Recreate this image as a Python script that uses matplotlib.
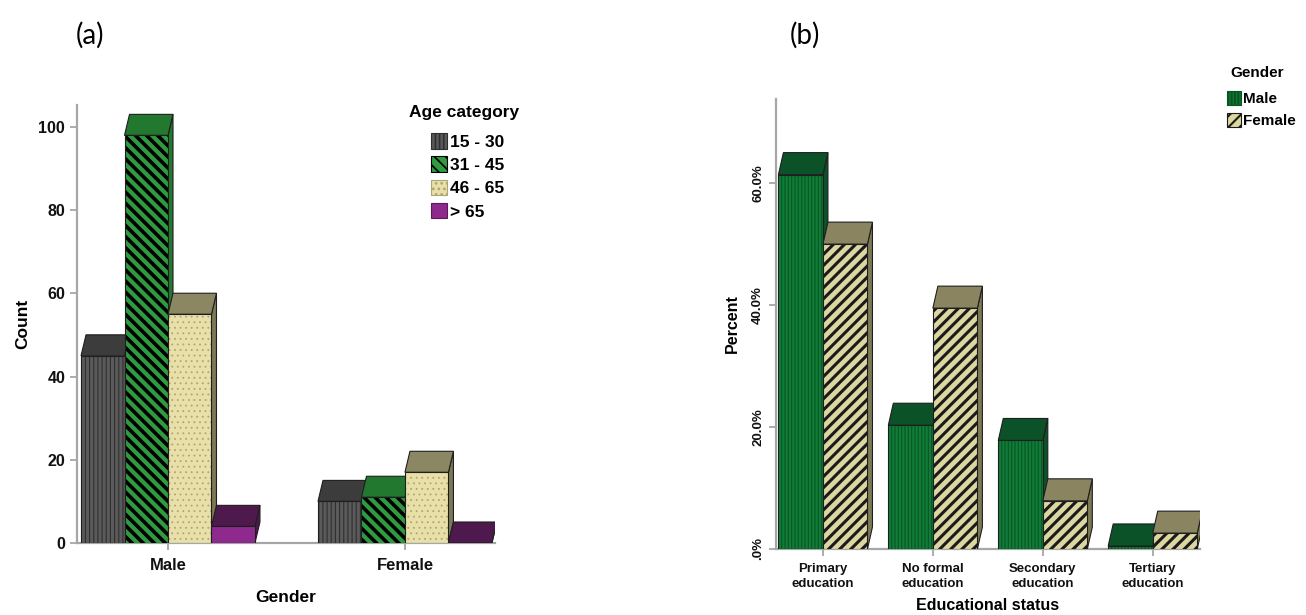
import matplotlib
matplotlib.use("Agg")
import matplotlib.pyplot as plt
from matplotlib.patches import Polygon, Patch
import numpy as np

# ---------------- data ----------------
genders = ["Male", "Female"]
age_categories = ["15 - 30", "31 - 45", "46 - 65", "> 65"]
age_counts = {
    "15 - 30": [45, 10],
    "31 - 45": [98, 11],
    "46 - 65": [55, 17],
    "> 65": [4, 0],
}
count_ticks = [0, 20, 40, 60, 80, 100]

edu_categories = ["Primary\neducation", "No formal\neducation", "Secondary\neducation", "Tertiary\neducation"]
edu_male = [61.4, 20.3, 17.8, 0.5]
edu_female = [50.0, 39.5, 7.9, 2.6]
pct_ticks = [0, 20, 40, 60]
pct_labels = [".0%", "20.0%", "40.0%", "60.0%"]

# ---------------- styles ----------------
W, H = 1306, 615
plt.rcParams['font.family'] = ['Liberation Sans', 'DejaVu Sans']
plt.rcParams['font.weight'] = 'bold'

age_style = {
    "15 - 30": dict(face='#5a5a5a', hcol='#2f2f2f', hatch='||||', top='#3c3c3c', side='#3c3c3c', hlw=0.8),
    "31 - 45": dict(face='#2f9a40', hcol='#000000', hatch='\\\\\\', top='#22782f', side='#22782f', hlw=2.6),
    "46 - 65": dict(face='#e8e0a8', hcol='#aea676', hatch='...', top='#8b8763', side='#7d7955', hlw=0.6),
    "> 65": dict(face='#8e2a8e', hcol='#8e2a8e', hatch=None, top='#4e1a4e', side='#4e1a4e', hlw=1.0),
}
sex_style = {
    "Male": dict(face='#0f7d38', hcol='#0a5424', hatch='|||||', top='#0b5229', side='#0b5229', hlw=0.8),
    "Female": dict(face='#dcd6a0', hcol='#1a1a1a', hatch='///', top='#8a8560', side='#7d7955', hlw=2.2),
}
axis_col = '#a6a6a6'
outline = '#1e1e1e'

fig = plt.figure(figsize=(W / 100, H / 100), dpi=100)


def set_hlw(artists, lw):
    for a in artists:
        if hasattr(a, 'set_hatch_linewidth'):
            a.set_hatch_linewidth(lw)


def bar3d(ax, xs, hs, w, st, zbase, dxp, dyp, axw_px, axh_px):
    x0, x1 = ax.get_xlim()
    y0, y1 = ax.get_ylim()
    dx = dxp * (x1 - x0) / axw_px
    dy = dyp * (y1 - y0) / axh_px
    for i, (x, h) in enumerate(zip(xs, hs)):
        z = zbase
        l, r = x - w / 2, x + w / 2
        side = Polygon([(r, 0), (r + dx, dy), (r + dx, h + dy), (r, h)], closed=True,
                       facecolor=st['side'], edgecolor=outline, lw=0.8, zorder=z)
        top = Polygon([(l, h), (r, h), (r + dx, h + dy), (l + dx, h + dy)], closed=True,
                      facecolor=st['top'], edgecolor=outline, lw=0.8, zorder=z + 0.01)
        ax.add_patch(side)
        ax.add_patch(top)
        if h > 0:
            b = ax.bar([x], [h], w, color=st['face'], edgecolor=st['hcol'],
                       hatch=st['hatch'], linewidth=0, zorder=z + 0.02)
            set_hlw(b.patches, st['hlw'])
            ax.bar([x], [h], w, fill=False, edgecolor=outline, linewidth=0.8, zorder=z + 0.03)


def style_axes(ax):
    for s in ['top', 'right']:
        ax.spines[s].set_visible(False)
    for s in ['left', 'bottom']:
        ax.spines[s].set_color(axis_col)
        ax.spines[s].set_linewidth(1.6)
    ax.tick_params(axis='both', colors=axis_col, length=5, width=1.3, labelcolor='#111111')


# ---------------- panel (a) ----------------
axA_px = (77, 72, 418, 438)
axA = fig.add_axes([axA_px[0] / W, axA_px[1] / H, axA_px[2] / W, axA_px[3] / H])
axA.set_xlim(-0.384, 1.38)
axA.set_ylim(0, 105.3)
wA = 0.1835
gx = np.arange(len(genders))
for k, cat in enumerate(age_categories):
    off = (k - 1.5) * wA
    bar3d(axA, gx + off, age_counts[cat], wA, age_style[cat], 3 + k, 5, 21, axA_px[2], axA_px[3])
style_axes(axA)
axA.set_yticks(count_ticks)
axA.set_yticklabels([str(t) for t in count_ticks], fontsize=11.5, fontweight='bold')
axA.set_xticks(gx)
axA.set_xticklabels(genders, fontsize=12, fontweight='bold')
axA.tick_params(axis='x', pad=6)
axA.set_ylabel("Count", fontsize=12.5, fontweight='bold', labelpad=6)
axA.set_xlabel("Gender", fontsize=12.5, fontweight='bold', labelpad=12)

hA = [Patch(facecolor=age_style[c]['face'], edgecolor=age_style[c]['hcol'] if c != "> 65" else '#5a1a5a',
            hatch=age_style[c]['hatch'], linewidth=0.8) for c in age_categories]
legA = fig.legend(hA, age_categories, loc='upper left', bbox_to_anchor=(431 / W, 1 - 133 / H),
                  frameon=False, handlelength=0.9, handleheight=1.0,
                  handletextpad=0.2, labelspacing=0.38, borderaxespad=0, borderpad=0,
                  prop=dict(family='Liberation Sans', weight='bold', size=12.5))
set_hlw(legA.get_patches(), 1.2)
fig.text(464 / W, 1 - 113 / H, "Age category", fontsize=12.5, fontweight='bold',
         ha='center', va='center')

# ---------------- panel (b) ----------------
axB_px = (776, 66, 424, 450)
axB = fig.add_axes([axB_px[0] / W, axB_px[1] / H, axB_px[2] / W, axB_px[3] / H])
axB.set_xlim(-0.427, 3.43)
axB.set_ylim(0, 73.8)
wB = 0.405
ex = np.arange(len(edu_categories))
bar3d(axB, ex - wB / 2, edu_male, wB, sex_style['Male'], 3, 5, 22, axB_px[2], axB_px[3])
bar3d(axB, ex + wB / 2, edu_female, wB, sex_style['Female'], 4, 5, 22, axB_px[2], axB_px[3])
style_axes(axB)
axB.set_yticks(pct_ticks)
axB.set_yticklabels(pct_labels, fontsize=9.5, fontweight='bold', rotation=90, va='center')
axB.set_xticks(ex)
axB.set_xticklabels(edu_categories, fontsize=9.5, fontweight='bold', linespacing=1.3)
axB.tick_params(axis='x', pad=5)
axB.set_ylabel("Percent", fontsize=11.5, fontweight='bold', labelpad=9)
axB.set_xlabel("Educational status", fontsize=11.5, fontweight='bold', labelpad=6)

hB = [Patch(facecolor=sex_style[g]['face'], edgecolor=sex_style[g]['hcol'],
            hatch=sex_style[g]['hatch'], linewidth=0.8) for g in ["Male", "Female"]]
legB = fig.legend(hB, ["Male", "Female"], loc='upper left', bbox_to_anchor=(1227 / W, 1 - 91 / H),
                  frameon=False, handlelength=0.9, handleheight=1.0,
                  handletextpad=0.15, labelspacing=0.48, borderaxespad=0, borderpad=0,
                  prop=dict(family='Liberation Sans', weight='bold', size=11))
set_hlw(legB.get_patches(), 1.5)
fig.text(1257 / W, 1 - 73 / H, "Gender", fontsize=11, fontweight='bold', ha='center', va='center')

# ---------------- panel letters ----------------
fig.text(90 / W, 1 - 35 / H, "(a)", fontsize=20, fontweight='normal', family=['Lato', 'DejaVu Sans'],
         ha='center', va='center')
fig.text(805 / W, 1 - 35 / H, "(b)", fontsize=20, fontweight='normal', family=['Lato', 'DejaVu Sans'],
         ha='center', va='center')

fig.savefig("out.png", dpi=100)
